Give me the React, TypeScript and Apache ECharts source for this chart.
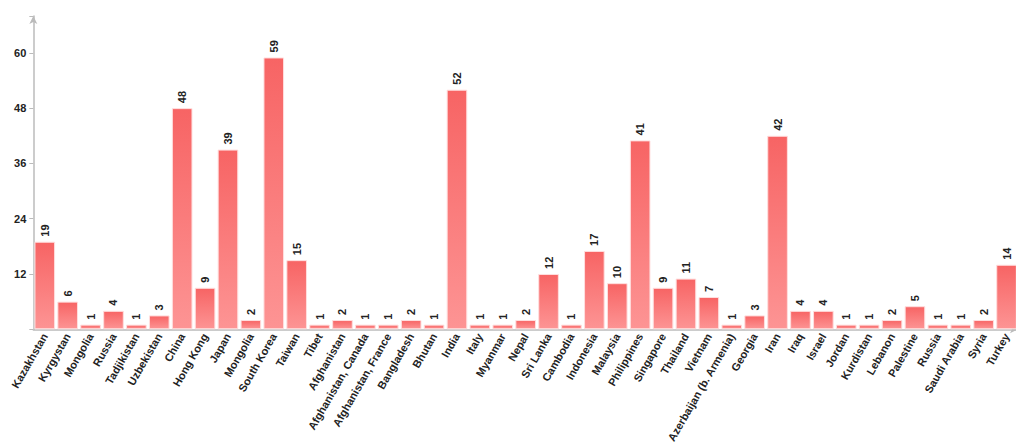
import React, { useEffect, useRef } from "react";
import * as echarts from "echarts";

const categories = [
  "Kazakhstan", "Kyrgystan", "Mongolia", "Russia", "Tadjikistan", "Uzbekistan",
  "China", "Hong Kong", "Japan", "Mongolia", "South Korea", "Taiwan", "Tibet",
  "Afghanistan", "Afghanistan, Canada", "Afghanistan, France", "Bangladesh", "Bhutan",
  "India", "Italy", "Myanmar", "Nepal", "Sri Lanka", "Cambodia", "Indonesia",
  "Malaysia", "Philippines", "Singapore", "Thailand", "Vietnam",
  "Azerbaijan (b. Armenia)", "Georgia", "Iran", "Iraq", "Israel", "Jordan",
  "Kurdistan", "Lebanon", "Palestine", "Russia", "Saudi Arabia", "Syria", "Turkey",
];

const values = [
  19, 6, 1, 4, 1, 3,
  48, 9, 39, 2, 59, 15, 1,
  2, 1, 1, 2, 1,
  52, 1, 1, 2, 12, 1, 17,
  10, 41, 9, 11, 7,
  1, 3, 42, 4, 4, 1,
  1, 2, 5, 1, 1, 2, 14,
];

const yTicks = [12, 24, 36, 48, 60];

export default function App() {
  const ref = useRef<HTMLDivElement>(null);
  useEffect(() => {
    if (!ref.current) return;
    const chart = echarts.init(ref.current, undefined, { renderer: "svg" });
    const font = "'Liberation Sans', Arial, sans-serif";
    chart.setOption({
      animation: false,
      textStyle: { fontFamily: font },
      grid: { left: 21, right: 6, top: 8, bottom: 114, containLabel: false },
      xAxis: {
        type: "category",
        data: categories,
        axisLine: {
          show: true,
          symbol: ["none", "arrow"],
          symbolSize: [6, 8],
          lineStyle: { color: "#bbbbbb", width: 1.5 },
        },
        axisTick: { show: false },
        axisLabel: {
          interval: 0,
          rotate: 60,
          fontSize: 11,
          fontWeight: "bold",
          color: "#222",
          fontFamily: font,
          margin: 5,
        },
      },
      yAxis: {
        type: "value",
        min: 0,
        max: 68,
        interval: 12,
        splitLine: { show: false },
        axisLine: {
          show: true,
          symbol: ["none", "arrow"],
          symbolSize: [6, 8],
          lineStyle: { color: "#bbbbbb", width: 1.5 },
        },
        axisTick: { show: true, length: 4, lineStyle: { color: "#bbbbbb" } },
        axisLabel: {
          fontSize: 11,
          fontWeight: "bold",
          color: "#222",
          fontFamily: font,
          margin: 7,
          formatter: (v: number) => (yTicks.includes(v) ? String(v) : ""),
        },
      },
      series: [
        {
          type: "bar",
          data: values,
          barCategoryGap: "10%",
          itemStyle: {
            color: new echarts.graphic.LinearGradient(0, 0, 0, 1, [
              { offset: 0, color: "#f76464" },
              { offset: 1, color: "#fd9494" },
            ]),
            borderColor: "#ffdede",
            borderWidth: 1,
          },
        },
        {
          type: "custom",
          data: values.map((v, i) => [i, v]),
          encode: { x: 0, y: 1 },
          silent: true,
          z: 10,
          renderItem: (params: any, api: any) => {
            const p = api.coord([api.value(0), api.value(1)]);
            return {
              type: "text",
              x: p[0],
              y: p[1] - 5,
              rotation: Math.PI / 2,
              style: {
                text: String(api.value(1)),
                x: 0,
                y: 0,
                align: "left",
                verticalAlign: "middle",
                font: "bold 11px 'Liberation Sans', Arial, sans-serif",
                fill: "#222",
              },
            };
          },
        },
      ],
    });
    return () => chart.dispose();
  }, []);
  return <div ref={ref} style={{ width: 1016, height: 438 }} />;
}
